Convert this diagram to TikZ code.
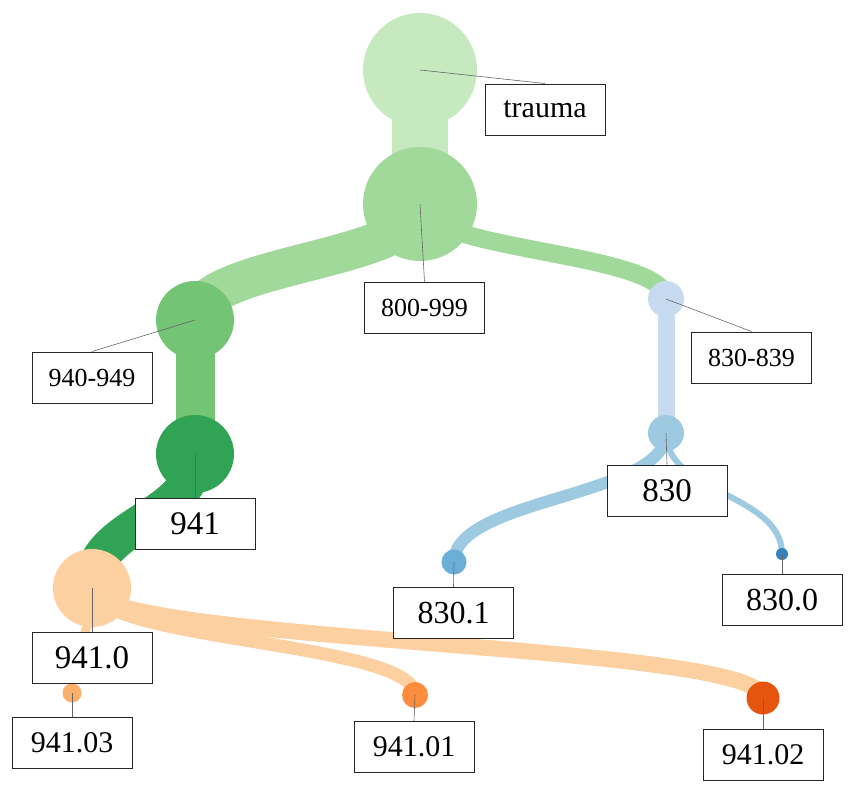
\documentclass[tikz,border=0pt]{standalone}
\usepackage{fontspec}
\setmainfont{Liberation Serif}
\usetikzlibrary{calc}
\pgfdeclarelayer{edges}
\pgfsetlayers{edges,main}
\definecolor{gA}{HTML}{C7E9C0}
\definecolor{gB}{HTML}{A1D99B}
\definecolor{gC}{HTML}{74C476}
\definecolor{gD}{HTML}{31A354}
\definecolor{oA}{HTML}{FDD0A2}
\definecolor{oB}{HTML}{FDAE6B}
\definecolor{oC}{HTML}{FD8D3C}
\definecolor{oD}{HTML}{E6550D}
\definecolor{bA}{HTML}{C6DBEF}
\definecolor{bB}{HTML}{9ECAE1}
\definecolor{bC}{HTML}{6BAED6}
\definecolor{bD}{HTML}{3182BD}
\newcommand\treelink[4]{%
  \coordinate (mid) at ($(#1.center)!0.5!(#2.center)$);
  \draw[line width=#3, draw=#4] (#1.center) .. controls (#1.center |- mid) and (#2.center |- mid) .. (#2.center);
}
\begin{document}
\begin{tikzpicture}[x=1pt,y=-1pt,
  dot/.style={circle, inner sep=0pt, minimum size=#1, draw=none},
  lbl/.style={draw=black!85, line width=1pt, fill=white, minimum width=120pt, minimum height=51pt, inner sep=0pt, font=\fontsize{#1}{#1}\selectfont},
  leader/.style={draw=black!60, line width=0.6pt}]
\useasboundingbox (0,0) rectangle (852,795);
% circles
\node[dot=114pt, fill=gA] (trauma) at (420,70) {};
\node[dot=114pt, fill=gB] (n800) at (420,204) {};
\node[dot=78pt, fill=gC] (n940) at (195,320) {};
\node[dot=78pt, fill=gD] (n941) at (195,454) {};
\node[dot=78pt, fill=oA] (n9410) at (92,588) {};
\node[dot=19pt, fill=oB] (n94103) at (72,693) {};
\node[dot=26pt, fill=oC] (n94101) at (415,695) {};
\node[dot=33pt, fill=oD] (n94102) at (763,698) {};
\node[dot=36pt, fill=bA] (n830839) at (666,299) {};
\node[dot=36pt, fill=bB] (n830) at (666,433) {};
\node[dot=25pt, fill=bC] (n8301) at (454,562) {};
\node[dot=12pt, fill=bD] (n8300) at (782,554) {};
% edges
\begin{pgfonlayer}{edges}
\treelink{trauma}{n800}{56pt}{gA}
\treelink{n800}{n940}{39pt}{gB}
\treelink{n800}{n830839}{18pt}{gB}
\treelink{n940}{n941}{39pt}{gC}
\treelink{n941}{n9410}{37pt}{gD}
\treelink{n9410}{n94103}{9pt}{oA}
\treelink{n9410}{n94101}{13pt}{oA}
\treelink{n9410}{n94102}{16pt}{oA}
\treelink{n830839}{n830}{17pt}{bA}
\treelink{n830}{n8301}{12pt}{bB}
\treelink{n830}{n8300}{6pt}{bB}
\end{pgfonlayer}
% label boxes
\node[lbl=30] (Ltrauma) at (545,109.5) {trauma};
\node[lbl=26] (L800) at (424.5,307.5) {800-999};
\node[lbl=26] (L940) at (92,377.5) {940-949};
\node[lbl=33] (L941) at (195,523.5) {941};
\node[lbl=33] (L9410) at (92,658) {941.0};
\node[lbl=30] (L94103) at (72,743) {941.03};
\node[lbl=30] (L94101) at (414,747) {941.01};
\node[lbl=30] (L94102) at (763,755) {941.02};
\node[lbl=26] (L830839) at (751.5,357.5) {830-839};
\node[lbl=33] (L830) at (667,490.5) {830};
\node[lbl=32] (L8301) at (453.5,613) {830.1};
\node[lbl=32] (L8300) at (782,600) {830.0};
% leader lines
\foreach \a/\b in {trauma/Ltrauma, n800/L800, n940/L940, n941/L941, n9410/L9410, n94103/L94103, n94101/L94101, n94102/L94102, n830839/L830839, n830/L830, n8301/L8301, n8300/L8300}
  \draw[leader] (\a.center) -- (\b.north);
\end{tikzpicture}
\end{document}
